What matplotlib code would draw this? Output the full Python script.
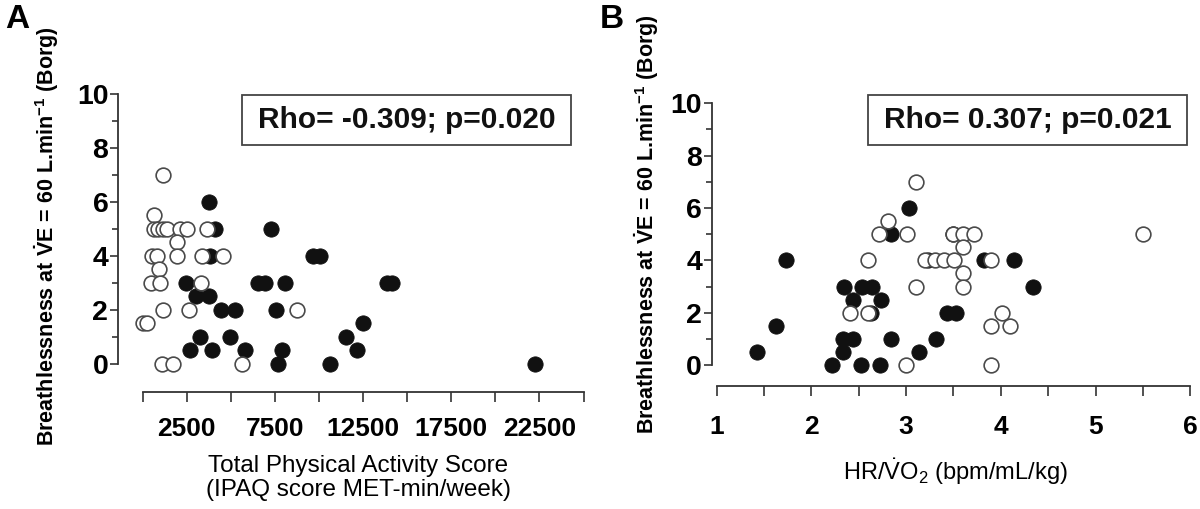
import matplotlib
matplotlib.use('Agg')
import matplotlib.pyplot as plt
from matplotlib.patches import Rectangle

plt.rcParams['font.family'] = ['Liberation Sans', 'DejaVu Sans']
plt.rcParams['mathtext.fontset'] = 'custom'
plt.rcParams['mathtext.rm'] = 'Liberation Sans'
plt.rcParams['mathtext.bf'] = 'Liberation Sans:bold'
plt.rcParams['mathtext.it'] = 'Liberation Sans:italic'

#%%
# panel A: IPAQ score vs breathlessness
ipaq_open_x = [1170, 640, 640, 870, 1150, 1380, 2120, 2510, 3630, 1930,
               510, 790, 1930, 3350, 4560, 940, 450, 980, 3310,
               1130, 2640, 8740, 0, 250, 1080, 1740, 5650]
ipaq_open_y = [7, 5.5, 5, 5, 5, 5, 5, 5, 5, 4.5,
               4, 4, 4, 4, 4, 3.5, 3, 3, 3,
               2, 2, 2, 1.5, 1.5, 0, 0, 0]
ipaq_fill_x = [3780, 4100, 7300, 3820, 9680, 10060, 2460, 6560, 6940, 8070,
               13840, 14120, 3020, 3780, 4440, 5240, 7580, 12480, 3250, 4950,
               11530, 2670, 3950, 5780, 7920, 12170, 7690, 10600, 22250]
ipaq_fill_y = [6, 5, 5, 4, 4, 4, 3, 3, 3, 3,
               3, 3, 2.5, 2.5, 2, 2, 2, 1.5, 1, 1,
               1, 0.5, 0.5, 0.5, 0.5, 0.5, 0, 0, 0]

# panel B: HR/VO2 vs breathlessness
hrvo2_open_x = [3.10, 2.81, 2.71, 3.01, 3.49, 3.60, 3.72, 5.50, 3.60,
                2.60, 3.20, 3.31, 3.40, 3.51, 3.90, 3.60, 3.10, 3.60,
                2.41, 2.60, 4.01, 3.90, 4.10, 3.00, 3.90]
hrvo2_open_y = [7, 5.5, 5, 5, 5, 5, 5, 5, 4.5,
                4, 4, 4, 4, 4, 4, 3.5, 3, 3,
                2, 2, 2, 1.5, 1.5, 0, 0]
hrvo2_fill_x = [3.03, 2.84, 3.50, 1.73, 3.23, 3.82, 4.14, 2.34, 2.53, 2.64,
                4.34, 2.44, 2.74, 2.63, 3.43, 3.53, 1.63, 2.33, 2.44, 2.84,
                3.32, 1.43, 2.33, 3.14, 2.22, 2.52, 2.72]
hrvo2_fill_y = [6, 5, 5, 4, 4, 4, 4, 3, 3, 3,
                3, 2.5, 2.5, 2, 2, 2, 1.5, 1, 1, 1,
                1, 0.5, 0.5, 0.5, 0, 0, 0]

rho_text = ['Rho= -0.309; p=0.020', 'Rho= 0.307; p=0.021']
ylabel = r'Breathlessness at $\mathbf{\dot{V}}$E = 60 L.min$^{\mathbf{-1}}$ (Borg)'

#%%
W, H = 1200, 509
fig = plt.figure(figsize=(12, 5.09), dpi=100)

def px(x0, y0, x1, y1):
    # pixel box (top-left origin) -> figure rect
    return [x0 / W, 1 - y1 / H, (x1 - x0) / W, (y1 - y0) / H]

def style_axes(ax):
    for s in ['top', 'right']:
        ax.spines[s].set_visible(False)
    for s in ['left', 'bottom']:
        ax.spines[s].set_color('#333333')
        ax.spines[s].set_linewidth(1.3)
    ax.tick_params(which='both', direction='out', color='#333333', width=1.2)
    ax.tick_params(axis='y', which='major', length=6, pad=1, labelsize=20.5)
    ax.tick_params(axis='y', which='minor', length=4.5)
    ax.set_yticks([0, 2, 4, 6, 8, 10])
    ax.set_yticklabels(['0', '2', '4', '6', '8', '10'], fontweight='bold')
    ax.set_yticks([1, 3, 5, 7, 9], minor=True)
    ax.spines['left'].set_bounds(0, 10)

def scatter(ax, ox, oy, fx, fy):
    ax.plot(fx, fy, 'o', ms=11, mfc='#111111', mec='#111111', mew=0.6, clip_on=False)
    ax.plot(ox, oy, 'o', ms=10.6, mfc='white', mec='#4a4a4a', mew=1.2, clip_on=False)

def rho_box(x0, y0, x1, y1, txt):
    fig.patches.append(Rectangle((x0 / W, 1 - y1 / H), (x1 - x0) / W, (y1 - y0) / H,
                                 transform=fig.transFigure, fill=False,
                                 ec='#444444', lw=1.3))
    fig.text((x0 + x1) / 2 / W, 1 - (y0 + y1) / 2 / H, txt, fontsize=21.5,
             fontweight='bold', ha='center', va='center', color='#111111')

#%%
# panel A
axA = fig.add_axes(px(118, 94, 583.5, 392))
scatter(axA, ipaq_open_x, ipaq_open_y, ipaq_fill_x, ipaq_fill_y)
axA.set_xlim(-1401, 25000)
axA.set_ylim(-1.057, 10)
style_axes(axA)
axA.set_xticks([2500, 7500, 12500, 17500, 22500])
axA.set_xticklabels(['2500', '7500', '12500', '17500', '22500'], fontweight='bold')
axA.set_xticks([0, 5000, 10000, 15000, 20000, 25000], minor=True)
axA.tick_params(axis='x', which='both', length=7, pad=11, labelsize=19)
axA.spines['bottom'].set_bounds(0, 25000)

fig.text(47 / W, 1 - 236 / H, ylabel, rotation=90, fontsize=15.5, fontweight='bold',
         ha='center', va='center')
fig.text(358 / W, 1 - 478 / H, 'Total Physical Activity Score\n(IPAQ score MET-min/week)',
         fontsize=17.5, ha='center', va='center', linespacing=1.15)
fig.text(17 / W, 1 - 20 / H, 'A', fontsize=24, fontweight='bold', ha='center', va='center')
rho_box(242, 95, 571, 145, rho_text[0])

#%%
# panel B
axB = fig.add_axes(px(711.7, 103.3, 1190.2, 386))
scatter(axB, hrvo2_open_x, hrvo2_open_y, hrvo2_fill_x, hrvo2_fill_y)
axB.set_xlim(0.947, 6)
axB.set_ylim(-0.80, 10)
style_axes(axB)
axB.set_xticks([1, 2, 3, 4, 5, 6])
axB.set_xticklabels(['1', '2', '3', '4', '5', '6'], fontweight='bold')
axB.set_xticks([1.5, 2.5, 3.5, 4.5, 5.5], minor=True)
axB.tick_params(axis='x', which='both', length=7, pad=14, labelsize=19)
axB.spines['bottom'].set_bounds(1, 6)

fig.text(647 / W, 1 - 224 / H, ylabel, rotation=90, fontsize=15.5, fontweight='bold',
         ha='center', va='center')
fig.text(955 / W, 1 - 472 / H, r'HR/$\dot{\mathrm{V}}$O$_2$ (bpm/mL/kg)',
         fontsize=17, ha='center', va='center')
fig.text(612 / W, 1 - 20 / H, 'B', fontsize=24, fontweight='bold', ha='center', va='center')
rho_box(868, 95, 1187, 145, rho_text[1])

plt.savefig('out.png', dpi=100, facecolor='white')
